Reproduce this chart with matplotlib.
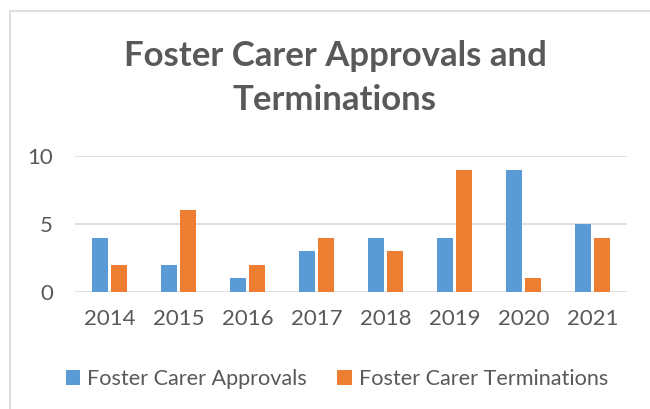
import matplotlib
matplotlib.use("Agg")
import matplotlib.pyplot as plt
import numpy as np
from matplotlib.patches import Rectangle

years = ["2014", "2015", "2016", "2017", "2018", "2019", "2020", "2021"]
approvals = [4, 2, 1, 3, 4, 4, 9, 5]
terminations = [2, 6, 2, 4, 3, 9, 1, 4]
yticks = [0, 5, 10]

plt.rcParams['font.family'] = ['Lato', 'DejaVu Sans']
txt = '#595959'
W, H = 650, 409
fig = plt.figure(figsize=(6.5, 4.09), dpi=100)

# chart border
fig.add_artist(Rectangle((10 / W, -0.1), 1.2, (409 - 11) / H + 0.1, transform=fig.transFigure,
                         fill=False, edgecolor='#D9D9D9', linewidth=1.2))

ax = fig.add_axes([75 / W, (409 - 292) / H, (627 - 75) / W, (292 - 156) / H])
x = np.arange(len(years))
bw = 0.235
ax.bar(x - bw / 2 - 0.02, approvals, bw, color='#5B9BD5', label='Foster Carer Approvals')
ax.bar(x + bw / 2 + 0.02, terminations, bw, color='#ED7D31', label='Foster Carer Terminations')
ax.set_xlim(-0.5, len(years) - 0.5)
ax.set_ylim(0, 10)
ax.set_yticks(yticks)
ax.set_xticks(x)
ax.set_xticklabels(years)
for s in ax.spines.values():
    s.set_visible(False)
ax.yaxis.grid(True, color='#D9D9D9', linewidth=1.2)
ax.set_axisbelow(True)
ax.tick_params(axis='both', length=0, labelsize=16, colors=txt)
ax.tick_params(axis='y', pad=16)
ax.tick_params(axis='x', pad=12)

fig.text(335 / W, 1 - 78 / H, "Foster Carer Approvals and\nTerminations", ha='center', va='center',
         fontsize=25, fontweight='bold', color=txt, linespacing=1.43)

leg = fig.legend(loc='center', bbox_to_anchor=(337 / W, 1 - 379 / H), ncol=2, frameon=False,
                 fontsize=15.6, handlelength=0.65, handleheight=0.65, columnspacing=1.4,
                 handletextpad=0.35)
for t in leg.get_texts():
    t.set_color(txt)

fig.savefig("out.png", dpi=100)
